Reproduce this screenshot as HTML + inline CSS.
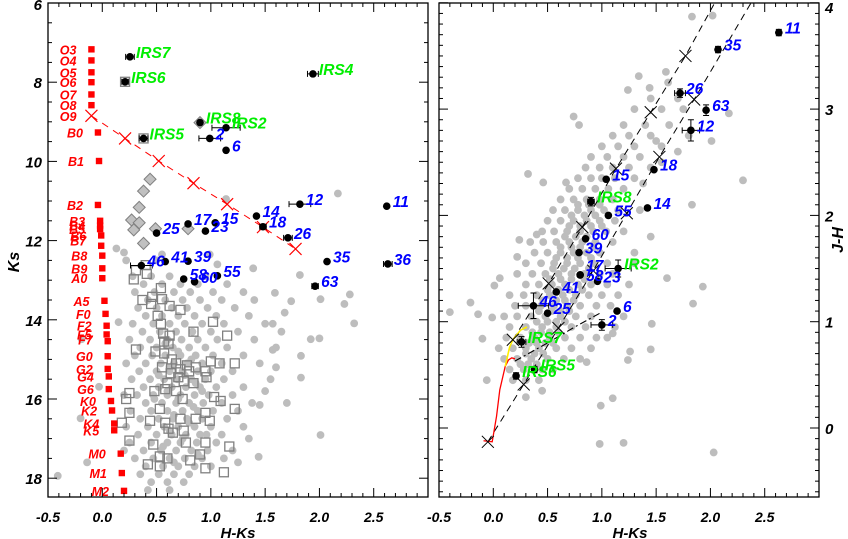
<!DOCTYPE html>
<html><head><meta charset="utf-8">
<style>
html,body{margin:0;padding:0;background:#fff;}
svg{display:block;}
text{font-family:"Liberation Sans",sans-serif;font-weight:bold;font-style:italic;}
</style></head>
<body>
<svg id="fig" width="848" height="539" viewBox="0 0 848 539" xmlns="http://www.w3.org/2000/svg">
<defs>
<clipPath id="clipL"><rect x="48" y="3" width="380" height="494"/></clipPath>
<clipPath id="clipR"><rect x="439" y="3" width="380" height="494"/></clipPath>
</defs>
<g id="left"></g>
<g id="right"></g>
</svg>
<script>
// ---------- LEFT PANEL DATA (H-Ks, Ks) ----------
const grayL = [
[2.17,10.81],[1.14,10.95],[0.13,12.2],[0.22,12.5],[0.2,12.3],[0.55,12.35],[0.99,12.35],[1.06,12.6],[1.39,12.7],[0.5,12.5],
[1.82,12.87],[2.28,13.36],[2.32,14.09],[2.23,13.6],[2.01,13.48],[2.0,14.47],[1.92,14.49],[1.83,14.91],[1.83,15.46],[2.01,16.91],
[1.45,16.15],[1.44,17.46],[-0.41,17.94],[-0.14,17.6],[-0.2,16.49],[-0.03,15.69],[-0.19,14.49],[0.15,14.06],[1.74,13.53],[1.59,13.32],
[1.68,13.82],[1.57,14.1],[1.65,14.3],[1.57,14.76],[1.6,15.2],[1.5,15.8],[1.7,16.1],[1.35,17.0],[1.25,17.6],[0.2,17.3],
[0.28,12.9],[0.45,12.9],[0.62,12.9],[0.95,12.9],
[0.38,13.1],[0.55,13.1],[0.72,13.1],[0.88,13.1],[1.15,13.1],
[0.3,13.3],[0.48,13.3],[0.66,13.3],[0.81,13.3],[1.02,13.3],[1.3,13.3],
[0.42,13.5],[0.58,13.5],[0.74,13.5],[0.9,13.5],[1.1,13.5],[1.4,13.5],
[0.33,13.7],[0.5,13.7],[0.64,13.7],[0.78,13.7],[0.97,13.7],[1.22,13.7],
[0.4,13.9],[0.55,13.9],[0.7,13.9],[0.85,13.9],[1.05,13.9],[1.35,13.9],
[0.28,14.1],[0.47,14.1],[0.62,14.1],[0.76,14.1],[0.92,14.1],[1.12,14.1],[1.5,14.1],
[0.37,14.3],[0.53,14.3],[0.68,14.3],[0.83,14.3],[1.0,14.3],[1.25,14.3],
[0.25,14.5],[0.44,14.5],[0.6,14.5],[0.73,14.5],[0.88,14.5],[1.06,14.5],[1.4,14.5],
[0.35,14.7],[0.5,14.7],[0.65,14.7],[0.8,14.7],[0.95,14.7],[1.15,14.7],[1.6,14.7],
[0.3,14.9],[0.46,14.9],[0.58,14.9],[0.72,14.9],[0.86,14.9],[1.02,14.9],[1.3,14.9],
[0.22,15.1],[0.4,15.1],[0.54,15.1],[0.66,15.1],[0.78,15.1],[0.92,15.1],[1.1,15.1],[1.45,15.1],
[0.34,15.3],[0.5,15.3],[0.62,15.3],[0.74,15.3],[0.88,15.3],[1.0,15.3],[1.2,15.3],
[0.27,15.5],[0.44,15.5],[0.57,15.5],[0.69,15.5],[0.82,15.5],[0.95,15.5],[1.12,15.5],[1.55,15.5],
[0.38,15.7],[0.52,15.7],[0.64,15.7],[0.77,15.7],[0.9,15.7],[1.05,15.7],[1.3,15.7],
[0.2,15.9],[0.32,15.9],[0.47,15.9],[0.6,15.9],[0.72,15.9],[0.85,15.9],[0.98,15.9],[1.2,15.9],
[0.4,16.1],[0.55,16.1],[0.68,16.1],[0.8,16.1],[0.93,16.1],[1.1,16.1],[1.38,16.1],
[0.26,16.3],[0.45,16.3],[0.6,16.3],[0.74,16.3],[0.88,16.3],[1.02,16.3],[1.25,16.3],
[0.35,16.5],[0.52,16.5],[0.65,16.5],[0.78,16.5],[0.92,16.5],[1.15,16.5],
[0.22,16.7],[0.42,16.7],[0.57,16.7],[0.7,16.7],[0.85,16.7],[1.0,16.7],[1.3,16.7],
[0.33,16.9],[0.5,16.9],[0.64,16.9],[0.77,16.9],[0.9,16.9],[1.1,16.9],
[0.25,17.1],[0.45,17.1],[0.6,17.1],[0.72,17.1],[0.87,17.1],[1.05,17.1],
[0.38,17.3],[0.54,17.3],[0.68,17.3],[0.82,17.3],[0.97,17.3],[1.2,17.3],
[0.3,17.5],[0.47,17.5],[0.62,17.5],[0.76,17.5],[0.92,17.5],[1.12,17.5],
[0.4,17.7],[0.56,17.7],[0.7,17.7],[0.85,17.7],[1.0,17.7],
[0.35,17.9],[0.52,17.9],[0.66,17.9],[0.8,17.9],
[0.45,18.1],[0.6,18.1],[0.75,18.1],[0.42,18.3],[0.62,18.3],
[0.58,14.6],[0.7,14.8],[0.82,15.0],[0.62,15.2],[0.76,15.4],[0.86,15.6],[0.6,15.8],[0.7,16.0],[0.84,16.2],[0.66,16.4],
[0.8,16.6],[0.62,16.8],[0.74,17.0],[0.56,17.2],[0.88,17.4],[0.66,17.6],[0.92,15.8],[0.52,15.4],[0.96,16.9],[0.48,16.0]
];
const squaresL = [
[0.29,12.98],[0.41,12.84],[0.37,13.5],[0.46,13.42],[0.54,13.2],[0.45,13.6],[0.55,13.48],[0.62,13.65],[0.72,13.75],[0.51,13.9],
[0.54,14.1],[0.56,14.35],[0.62,14.4],[0.57,14.55],[0.61,14.6],[0.84,14.3],[1.02,14.05],[1.15,14.4],[0.31,14.75],[0.49,14.8],
[0.57,14.85],[0.64,15.0],[0.68,15.1],[0.55,15.2],[0.72,15.25],[0.78,15.15],[0.8,15.3],[0.86,15.2],[0.63,15.35],[0.7,15.45],
[0.75,15.55],[0.6,15.6],[0.95,15.3],[1.0,15.05],[1.08,15.1],[1.22,15.1],[0.96,15.45],[0.84,15.6],[0.58,15.75],[0.68,15.8],
[0.48,15.8],[0.25,15.85],[0.22,16.0],[0.74,16.0],[1.03,15.95],[1.09,16.05],[0.53,16.25],[0.25,16.35],[0.44,16.55],[0.58,16.6],
[0.72,16.5],[0.86,16.5],[0.95,16.35],[0.99,16.55],[0.61,16.75],[0.65,16.85],[0.75,16.8],[1.22,16.25],[0.18,16.6],[0.25,17.05],
[0.47,17.15],[0.77,17.1],[0.95,17.1],[1.17,17.2],[0.53,17.45],[0.6,17.5],[0.81,17.55],[0.9,17.4],[0.42,17.65],[0.53,17.7],
[0.95,17.75],[1.12,17.85],[0.21,7.99],[0.38,9.42],[0.4,12.62],[0.31,12.75]
];
const diamondsL = [[0.44,10.45],[0.38,10.75],[0.34,11.16],[0.27,11.48],[0.34,11.55],[0.29,11.73],[0.49,11.7],[0.79,11.7],[0.38,12.07],[0.9,9.02]];
const spNames = ["O3","O4","O5","O6","O7","O8","O9","B0","B1","B2","B3","B4","B5","B6","B7","B8","B9","A0","A5","F0","F2","F5","F7","G0","G2","G4","G6","K0","K2","K4","K5","M0","M1","M2"];
const spHK = [-0.1,-0.1,-0.1,-0.1,-0.1,-0.1,-0.1,-0.04,-0.03,-0.04,-0.02,-0.02,-0.02,-0.01,-0.01,0.0,0.0,0.0,0.02,0.03,0.04,0.04,0.05,0.05,0.05,0.06,0.06,0.08,0.09,0.11,0.11,0.17,0.18,0.2];
const spKs = [7.17,7.45,7.75,8.0,8.31,8.58,8.85,9.27,9.99,11.1,11.5,11.62,11.71,11.87,12.13,12.38,12.7,12.95,13.52,13.85,14.15,14.37,14.54,14.92,15.24,15.43,15.75,16.05,16.29,16.62,16.79,17.38,17.87,18.32];
const spLabelKs = [7.17,7.45,7.75,8.0,8.31,8.58,8.85,9.27,9.99,11.1,11.5,11.62,11.71,11.87,12.0,12.38,12.7,12.95,13.52,13.85,14.15,14.37,14.5,14.92,15.24,15.43,15.75,16.05,16.29,16.62,16.79,17.38,17.87,18.32];
const avHK = [-0.1,0.21,0.52,0.84,1.15,1.48,1.78];
const avKs = [8.85,9.42,9.99,10.55,11.08,11.66,12.21];
const starNames = ["IRS7","IRS6","IRS4","IRS8","IRS2","IRS5","2","6","12","11","14","17","15","18","23","25","26","35","36","46","41","39","58","60","55","63"];
const starHK = [0.255,0.21,1.94,0.9,1.14,0.38,0.99,1.14,1.82,2.62,1.42,0.79,1.04,1.48,0.95,0.5,1.71,2.07,2.63,0.36,0.58,0.79,0.75,0.85,1.06,1.96];
const starKs = [7.36,7.99,7.79,9.02,9.15,9.42,9.42,9.72,11.08,11.13,11.38,11.58,11.55,11.65,11.76,11.81,11.93,12.53,12.59,12.63,12.53,12.52,12.97,13.04,12.89,13.15];
const starHKerr = [0.04,0.03,0.05,0.0,0.13,0.04,0.1,0.0,0.1,0.0,0.0,0.0,0.0,0.03,0.0,0.0,0.04,0.0,0.04,0.1,0.0,0.0,0.0,0.0,0.0,0.03];

// ---------- RIGHT PANEL DATA (H-Ks, J-H) ----------
const grayR = [
[1.83,3.87],[2.02,3.88],[1.59,3.35],[1.34,3.31],[1.61,3.25],[1.44,3.2],[1.24,3.18],[2.17,2.96],[0.74,2.93],[0.79,2.85],
[2.01,2.7],[2.3,2.33],[0.32,2.39],[0.46,2.31],[0.67,2.31],[1.83,2.1],[0.24,1.77],[0.22,1.61],[0.4,1.82],[1.6,1.41],
[1.93,1.33],[1.84,1.17],[-0.21,1.18],[-0.4,1.09],[-0.14,1.07],[-0.01,1.04],[0.06,1.41],[0.01,1.34],[-0.1,0.84],[-0.06,0.45],
[0.99,0.21],[1.1,0.28],[0.98,-0.15],[1.2,-0.14],[2.03,-0.23],[1.45,0.74],[1.46,0.98],[1.26,0.72],[1.24,0.64],[0.86,0.62],
[0.45,0.35],[0.3,0.29],[1.1,0.89],[1.7,2.6],[1.8,2.75],[1.5,2.7],[1.55,2.5],[1.38,2.3],[1.3,1.65],[1.45,1.8],
[0.18,0.45],[0.3,0.45],[0.42,0.45],
[0.15,0.55],[0.28,0.55],[0.45,0.55],[0.55,0.55],
[0.1,0.65],[0.22,0.65],[0.35,0.65],[0.5,0.65],[0.65,0.65],[0.8,0.65],
[0.05,0.75],[0.18,0.75],[0.3,0.75],[0.42,0.75],[0.58,0.75],[0.72,0.75],[0.9,0.75],
[0.12,0.85],[0.25,0.85],[0.38,0.85],[0.52,0.85],[0.66,0.85],[0.8,0.85],[0.95,0.85],[1.05,0.85],
[0.15,0.95],[0.3,0.95],[0.45,0.95],[0.58,0.95],[0.72,0.95],[0.85,0.95],[1.12,0.95],
[0.1,1.05],[0.22,1.05],[0.35,1.05],[0.48,1.05],[0.62,1.05],[0.76,1.05],[0.9,1.05],[1.2,1.05],
[0.2,1.15],[0.3,1.15],[0.44,1.15],[0.56,1.15],[0.68,1.15],[0.8,1.15],[0.95,1.15],[1.08,1.15],
[0.15,1.25],[0.28,1.25],[0.4,1.25],[0.52,1.25],[0.64,1.25],[0.76,1.25],[0.88,1.25],[1.0,1.25],[1.15,1.25],
[0.3,1.35],[0.42,1.35],[0.54,1.35],[0.66,1.35],[0.78,1.35],[0.9,1.35],[1.05,1.35],[1.25,1.35],
[0.22,1.45],[0.36,1.45],[0.48,1.45],[0.6,1.45],[0.72,1.45],[0.84,1.45],[0.98,1.45],[1.1,1.45],
[0.3,1.55],[0.44,1.55],[0.56,1.55],[0.68,1.55],[0.8,1.55],[0.92,1.55],[1.05,1.55],[1.3,1.55],
[0.38,1.65],[0.5,1.65],[0.62,1.65],[0.74,1.65],[0.86,1.65],[0.98,1.65],
[0.34,1.75],[0.46,1.75],[0.58,1.75],[0.7,1.75],[0.82,1.75],[0.94,1.75],[1.1,1.75],
[0.45,1.85],[0.56,1.85],[0.68,1.85],[0.8,1.85],[0.92,1.85],[1.04,1.85],[1.2,1.85],
[0.5,1.95],[0.62,1.95],[0.74,1.95],[0.86,1.95],[0.98,1.95],[1.12,1.95],
[0.55,2.05],[0.66,2.05],[0.78,2.05],[0.9,2.05],[1.02,2.05],[1.15,2.05],[1.35,2.05],
[0.62,2.15],[0.74,2.15],[0.86,2.15],[0.98,2.15],[1.1,2.15],
[0.7,2.25],[0.82,2.25],[0.94,2.25],[1.06,2.25],[1.2,2.25],
[0.78,2.35],[0.9,2.35],[1.0,2.35],[1.12,2.35],[1.3,2.35],
[0.85,2.45],[0.98,2.45],[1.1,2.45],[1.25,2.45],[1.45,2.45],
[0.9,2.55],[1.05,2.55],[1.2,2.55],[1.35,2.55],
[1.0,2.65],[1.15,2.65],[1.3,2.65],[1.55,2.65],
[1.1,2.75],[1.25,2.75],[1.45,2.75],
[1.2,2.85],[1.4,2.85],[1.62,2.85],
[1.3,3.0],[1.55,3.0],[1.75,3.0],[1.45,3.1],[1.7,3.1],
[0.25,0.6],[0.32,0.6],[0.4,0.6],[0.3,0.7],[0.38,0.7],[0.46,0.7],
[0.33,0.8],[0.4,0.8],[0.48,0.8],[0.55,0.8],[0.36,0.9],[0.44,0.9],[0.52,0.9],[0.6,0.9],
[0.4,1.0],[0.5,1.0],[0.58,1.0],[0.66,1.0],[0.42,1.1],[0.54,1.1],[0.62,1.1],[0.7,1.1],
[0.46,1.2],[0.58,1.2],[0.66,1.2],[0.74,1.2],[0.5,1.3],[0.6,1.3],[0.7,1.3],[0.82,1.3],
[0.52,1.4],[0.62,1.4],[0.72,1.4],[0.84,1.4],[0.55,1.5],[0.65,1.5],[0.75,1.5],[0.88,1.5],
[0.58,1.6],[0.68,1.6],[0.78,1.6],[0.9,1.6],[0.62,1.7],[0.72,1.7],[0.8,1.7],[0.92,1.7],
[0.66,1.8],[0.76,1.8],[0.86,1.8],[0.7,1.9],[0.8,1.9],[0.9,1.9],[1.0,1.9],
[0.72,2.0],[0.84,2.0],[0.94,2.0],[0.78,2.1],[0.88,2.1],[0.98,2.1]
];
const rNames = ["11","35","26","63","12","18","15","IRS8","14","55","60","39","IRS2","17","58","23","41","46","25","6","2","IRS7","IRS5","IRS6"];
const rHK = [2.63,2.07,1.72,1.96,1.82,1.48,1.04,0.9,1.42,1.06,0.85,0.79,1.15,0.8,0.8,0.96,0.58,0.37,0.5,1.14,1.0,0.26,0.38,0.21];
const rJH = [3.72,3.56,3.15,2.99,2.8,2.43,2.34,2.13,2.07,2.0,1.78,1.65,1.5,1.44,1.44,1.38,1.28,1.15,1.08,1.1,0.97,0.81,0.55,0.49];
const rHKerr = [0.0,0.0,0.05,0.0,0.08,0.0,0.0,0.03,0.0,0.0,0.0,0.0,0.12,0.0,0.0,0.0,0.0,0.14,0.0,0.0,0.1,0.04,0.0,0.0];
const rJHerr = [0.03,0.03,0.04,0.05,0.1,0.0,0.0,0.04,0.0,0.0,0.0,0.0,0.08,0.0,0.0,0.0,0.0,0.12,0.0,0.0,0.05,0.05,0.03,0.03];
const redHK1 = [-0.09,-0.01,0.03,0.06,0.11,0.14,0.17,0.2];
const redJH1 = [-0.12,-0.13,0.11,0.36,0.58,0.64,0.66,0.65];
const yelHK = [0.11,0.15,0.18,0.25,0.31];
const yelJH = [0.58,0.76,0.83,0.92,0.95];
const line1HK = [0.18,0.51,0.82,1.13,1.45,1.77,2.04];
const line1JH = [0.83,1.36,1.89,2.44,2.97,3.5,4.0];
const line1X = [0.18,0.51,0.82,1.13,1.45,1.77];
const line1XJH = [0.83,1.36,1.89,2.44,2.97,3.5];
const line2HK = [-0.05,0.28,0.6,0.92,1.23,1.53,1.85,2.38];
const line2JH = [-0.13,0.41,0.94,1.48,2.02,2.55,3.09,4.01];
const line2X = [-0.05,0.28,0.6,0.92,1.23,1.53,1.85];
const line2XJH = [-0.13,0.41,0.94,1.48,2.02,2.55,3.09];
const ctHK = [0.2,0.5,0.75,1.0];
const ctJH = [0.63,0.8,0.95,1.09];

// ---------- helpers ----------
const NS = "http://www.w3.org/2000/svg";
function mk(parent, tag, attrs){ const e=document.createElementNS(NS,tag); for(const k in attrs) e.setAttribute(k,attrs[k]); parent.appendChild(e); return e; }
const xL = v => 48 + (v+0.5)*108.57;
const yL = v => 3 + (v-6)*39.6;
const xR = v => 439 + (v+0.5)*108.57;
const yR = v => 428 - v*106.3;
const L = document.getElementById('left');
const R = document.getElementById('right');

function axisBox(g, x0, y0, w, h){
  const r = mk(g,'rect',{x:x0,y:y0,width:w,height:h,fill:'none',stroke:'#000','stroke-width':1.3});
  
  
}
function xTicks(g, xf, yTop, yBot, labels, tickTexts){
  for(let i=-5;i<=30;i++){
    const v=i/10, px=xf(v), major=(i%5===0), len=major?9:4;
    mk(g,'line',{x1:px,y1:yBot,x2:px,y2:yBot-len,stroke:'#000','stroke-width':1});
    mk(g,'line',{x1:px,y1:yTop,x2:px,y2:yTop+len,stroke:'#000','stroke-width':1});
  }
  tickTexts.forEach(t=>{
    const tx = mk(g,'text',{x:xf(parseFloat(t)),y:522,'font-size':14,'text-anchor':'middle'});
    tx.textContent=t;
    
    
  });
}
const xTickTexts = ["-0.5","0.0","0.5","1.0","1.5","2.0","2.5"];

// ---------- LEFT ----------
const gL = mk(L,'g',{'clip-path':'url(#clipL)'});
grayL.forEach(p=>{
  const c=mk(gL,'circle',{cx:xL(p[0]),cy:yL(p[1]),r:3.9,fill:'#bdbdbd'});
  
  
});
squaresL.forEach(p=>{
  const s=mk(gL,'rect',{x:xL(p[0])-4.5,y:yL(p[1])-4.5,width:9,height:9,fill:'none',stroke:'#808080','stroke-width':1.3});
  
  
});
diamondsL.forEach(p=>{
  const cx=xL(p[0]), cy=yL(p[1]);
  const d=mk(gL,'polygon',{points:`${cx},${cy-6} ${cx+6},${cy} ${cx},${cy+6} ${cx-6},${cy}`,fill:'#c0c0c0',stroke:'#808080','stroke-width':1});
  
  
});
const avPts = avHK.map((v,i)=>`${xL(v)},${yL(avKs[i])}`).join(' ');
const avl = mk(gL,'polyline',{points:avPts,fill:'none',stroke:'#ff0000','stroke-width':1,'stroke-dasharray':'7,6'});


avHK.forEach((v,i)=>{
  const cx=xL(v), cy=yL(avKs[i]), s=6;
  const x=mk(gL,'path',{d:`M${cx-s},${cy-s}L${cx+s},${cy+s}M${cx-s},${cy+s}L${cx+s},${cy-s}`,stroke:'#ff0000','stroke-width':1.2});
  
  
});
spNames.forEach((n,i)=>{
  const cx=xL(spHK[i]), cy=yL(spKs[i]);
  if(n!=="O9"){
    const s=mk(gL,'rect',{x:cx-3.2,y:cy-3.2,width:6.4,height:6.4,fill:'#ff0000'});
    
    
  }
  const t=mk(L,'text',{x:cx-15,y:yL(spLabelKs[i])+5,'font-size':12.5,fill:'#ff0000','text-anchor':'end'});
  t.textContent=n;
  
  
});
starNames.forEach((n,i)=>{
  const cx=xL(starHK[i]), cy=yL(starKs[i]);
  if(starHKerr[i]>0){
    const e=starHKerr[i]*108.57;
    mk(gL,'path',{d:`M${cx-e},${cy}H${cx+e}M${cx-e},${cy-3}V${cy+3}M${cx+e},${cy-3}V${cy+3}`,stroke:'#000','stroke-width':1});
  }
  const c=mk(gL,'circle',{cx:cx,cy:cy,r:3.8,fill:'#000'});
  
  
  const green=n.startsWith('IRS');
  const t=mk(L,'text',{x:cx+6,y:cy+1,'font-size':15.5,fill:green?'#00ee00':'#0000ff'});
  t.textContent=n;
  
  
});
axisBox(L,48,3,380,494);
xTicks(L,xL,3,497,null,xTickTexts);
for(let k=0;k<=25;k++){
  const v=6+k*0.5, py=yL(v), major=(k%4===0), len=major?9:4;
  if(py>497) continue;
  mk(L,'line',{x1:48,y1:py,x2:48+len,y2:py,stroke:'#000'});
  mk(L,'line',{x1:428,y1:py,x2:428-len,y2:py,stroke:'#000'});
  if(major){
    const t=mk(L,'text',{x:42,y:Math.max(py+6,10),'font-size':15,'text-anchor':'end'});
    t.textContent=String(v);
    
    
  }
}
const xtl=mk(L,'text',{x:238,y:538,'font-size':15,'text-anchor':'middle'}); xtl.textContent='H-Ks';


const ytl=mk(L,'text',{x:0,y:0,'font-size':16,'text-anchor':'middle',transform:'translate(19,262) rotate(-90)'}); ytl.textContent='Ks';



// ---------- RIGHT ----------
const gR = mk(R,'g',{'clip-path':'url(#clipR)'});
grayR.forEach(p=>{
  const c=mk(gR,'circle',{cx:xR(p[0]),cy:yR(p[1]),r:3.9,fill:'#bdbdbd'});
  
  
});
function polyl(g,xs,ys,attrs,name){
  const pts=xs.map((v,i)=>`${xR(v)},${yR(ys[i])}`).join(' ');
  const a=Object.assign({points:pts,fill:'none'},attrs);
  const p=mk(g,'polyline',a);
  
  
}
polyl(gR,line1HK,line1JH,{stroke:'#000','stroke-width':1,'stroke-dasharray':'7,5'},'reddening-band-upper');
polyl(gR,line2HK,line2JH,{stroke:'#000','stroke-width':1,'stroke-dasharray':'7,5'},'reddening-band-lower');
polyl(gR,ctHK,ctJH,{stroke:'#000','stroke-width':1.1,'stroke-dasharray':'7,3,2,3'},'ctts-locus');
polyl(gR,redHK1,redJH1,{stroke:'#ff0000','stroke-width':1.3},'dwarf-locus');
polyl(gR,yelHK,yelJH,{stroke:'#ffee00','stroke-width':1.6},'giant-locus');
function xmark(g,cx,cy){
  const s=6;
  const x=mk(g,'path',{d:`M${cx-s},${cy-s}L${cx+s},${cy+s}M${cx-s},${cy+s}L${cx+s},${cy-s}`,stroke:'#000','stroke-width':1});
  
  
}
line1X.forEach((v,i)=>xmark(gR,xR(v),yR(line1XJH[i])));
line2X.forEach((v,i)=>xmark(gR,xR(v),yR(line2XJH[i])));
rNames.forEach((n,i)=>{
  const cx=xR(rHK[i]), cy=yR(rJH[i]);
  if(rHKerr[i]>0){ const e=rHKerr[i]*108.57;
    mk(gR,'path',{d:`M${cx-e},${cy}H${cx+e}M${cx-e},${cy-3}V${cy+3}M${cx+e},${cy-3}V${cy+3}`,stroke:'#000','stroke-width':1}); }
  if(rJHerr[i]>0){ const e=rJHerr[i]*106.3;
    mk(gR,'path',{d:`M${cx},${cy-e}V${cy+e}M${cx-3},${cy-e}H${cx+3}M${cx-3},${cy+e}H${cx+3}`,stroke:'#000','stroke-width':1}); }
  const c=mk(gR,'circle',{cx:cx,cy:cy,r:3.8,fill:'#000'});
  
  
  const green=n.startsWith('IRS');
  const dy = n==='58'?6:(n==='17'?-4:1);
  const t=mk(R,'text',{x:cx+6,y:cy+dy,'font-size':15.5,fill:green?'#00ee00':'#0000ff'});
  t.textContent=n;
  
  
});
axisBox(R,439,3,380,494);
xTicks(R,xR,3,497,null,xTickTexts);
for(let k=-6;k<=40;k++){
  const v=k/10, py=yR(v), major=(k%10===0), len=major?9:4;
  if(py<2||py>497) continue;
  mk(R,'line',{x1:439,y1:py,x2:439+len,y2:py,stroke:'#000'});
  mk(R,'line',{x1:819,y1:py,x2:819-len,y2:py,stroke:'#000'});
  if(major){
    const t=mk(R,'text',{x:825,y:Math.max(py+6,13),'font-size':15,'text-anchor':'start'});
    t.textContent=String(v);
    
    
  }
}
const xtr=mk(R,'text',{x:630,y:538,'font-size':15,'text-anchor':'middle'}); xtr.textContent='H-Ks';


const ytr=mk(R,'text',{x:0,y:0,'font-size':16,'text-anchor':'middle',transform:'translate(843,240) rotate(-90)'}); ytr.textContent='J-H';


</script>
</body></html>
